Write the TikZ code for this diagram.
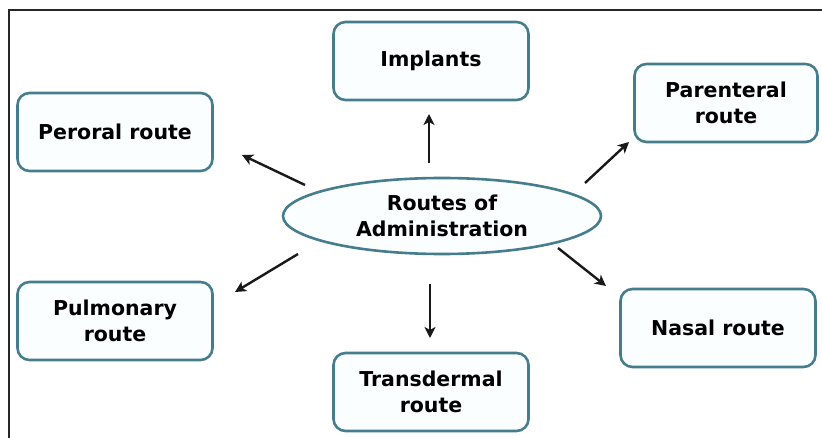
\documentclass[tikz,border=0pt]{standalone}
\usepackage{fontspec}
\setmainfont{DejaVu Sans}
\usetikzlibrary{shapes.geometric,arrows.meta}
\definecolor{edgecol}{RGB}{70,125,140}
\definecolor{boxfill}{RGB}{250,254,255}
\begin{document}
\begin{tikzpicture}[x=1pt,y=-1pt,
  lbl/.style={font=\bfseries\fontsize{20.5}{25.5}\selectfont, text=black},
  routebox/.style={lbl, draw=edgecol, line width=2.6pt, fill=boxfill, rounded corners=12pt,
    minimum width=195pt, minimum height=78pt, align=center, inner sep=0pt},
  hub/.style={lbl, ellipse, draw=edgecol, line width=2.6pt, fill=boxfill,
    minimum width=318pt, minimum height=76pt, inner sep=0pt, align=center},
  arr/.style={-{Stealth[length=11pt,width=11pt,inset=3pt]}, line width=2.4pt, black!90},
  frame/.style={line width=2.2pt, black!85}]
\useasboundingbox (0,0) rectangle (822,438);
\fill[white] (0,0) rectangle (822,438);
\coordinate (f1) at (822,10);
\coordinate (f2) at (9,10);
\coordinate (f3) at (9,438);
\draw[frame] (f1) -- (f2) -- (f3);

\node[hub] (c) at (442,216) {Routes of\\Administration};
\node[routebox] (imp) at (431,61) {Implants};
\node[routebox] (per) at (115,132) {Peroral route};
\node[routebox, minimum width=183pt] (par) at (726,103) {Parenteral\\route};
\node[routebox] (pul) at (115,321) {Pulmonary\\route};
\node[routebox] (tra) at (431,392) {Transdermal\\route};
\node[routebox] (nas) at (718,328) {Nasal route};

\coordinate (a1s) at (429,163); \coordinate (a1e) at (429,114);
\coordinate (a2s) at (305,185); \coordinate (a2e) at (242,155);
\coordinate (a3s) at (585,183); \coordinate (a3e) at (629,142);
\coordinate (a4s) at (298,254); \coordinate (a4e) at (235,292);
\coordinate (a5s) at (430,284); \coordinate (a5e) at (430,338);
\coordinate (a6s) at (558,248); \coordinate (a6e) at (606,286);

\draw[arr] (a1s) -- (a1e);
\draw[arr] (a2s) -- (a2e);
\draw[arr] (a3s) -- (a3e);
\draw[arr] (a4s) -- (a4e);
\draw[arr] (a5s) -- (a5e);
\draw[arr] (a6s) -- (a6e);
\end{tikzpicture}
\end{document}
